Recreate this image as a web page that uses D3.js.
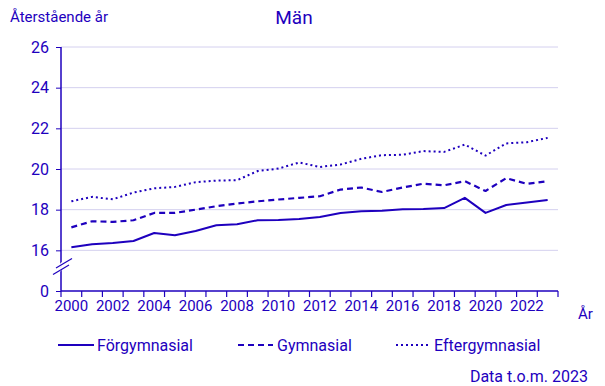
<!DOCTYPE html>
<html><head><meta charset="utf-8">
<script src="https://cdn.jsdelivr.net/npm/d3@7"></script>
<style>body{margin:0;background:#fff}svg{display:block;font-family:Roboto,sans-serif}</style>
</head><body><svg id="c" width="605" height="386"></svg>
<script>
const years = d3.range(2000, 2024);
const forgymnasial = [16.15,16.3,16.36,16.46,16.85,16.74,16.95,17.23,17.28,17.48,17.49,17.54,17.64,17.84,17.92,17.95,18.02,18.03,18.08,18.58,17.84,18.23,18.35,18.48];
const gymnasial = [17.13,17.43,17.4,17.48,17.84,17.84,18.0,18.17,18.3,18.41,18.5,18.58,18.66,18.99,19.09,18.87,19.09,19.28,19.2,19.4,18.92,19.55,19.27,19.4];
const eftergymnasial = [18.41,18.63,18.51,18.84,19.05,19.12,19.35,19.43,19.45,19.9,20.02,20.32,20.1,20.22,20.5,20.68,20.7,20.88,20.84,21.2,20.66,21.26,21.32,21.53];
const yTicks = [14,16,18,20,22,24,26];
const yTickLabels = ["0","16","18","20","22","24","26"];
const seriesNames = ["Förgymnasial","Gymnasial","Eftergymnasial"];

const C = "#1e00be", GRID = "#d4d0ef";
const svg = d3.select("#c");
const x = d3.scaleBand().domain(years).range([61, 558]).padding(0);
const y = d3.scaleLinear().domain([14, 26]).range([291, 47]);

// grid
svg.append("g").selectAll("line").data(yTicks.slice(1)).join("line")
  .attr("x1", 61).attr("x2", 558).attr("y1", d => y(d)).attr("y2", d => y(d))
  .attr("stroke", GRID).attr("stroke-width", 1);

// y axis
const ya = svg.append("g").attr("transform", "translate(61,0)")
  .call(d3.axisLeft(y).tickValues(yTicks).tickSize(5).tickPadding(7).tickFormat((d,i) => yTickLabels[i]));
ya.select(".domain").attr("stroke", C).attr("stroke-width", 1.5).attr("d", "M0,47V291");
ya.selectAll(".tick line").attr("stroke", C);
ya.selectAll("text").attr("fill", C).style("font-size", "16px").style("font-family", "Roboto,sans-serif");

// x axis
const xa = svg.append("g").attr("transform", "translate(0,291)")
  .call(d3.axisBottom(x).tickSize(0).tickPadding(9).tickFormat(d => d % 2 === 0 ? d : ""));
xa.select(".domain").attr("stroke", C).attr("stroke-width", 1.5).attr("d", "M61,0H558");
xa.selectAll("text").attr("fill", C).style("font-size", "15px").style("font-family", "Roboto,sans-serif");
svg.append("g").selectAll("line").data(years.concat([2024])).join("line")
  .attr("x1", (d,i) => 61 + i * x.bandwidth()).attr("x2", (d,i) => 61 + i * x.bandwidth())
  .attr("y1", 291).attr("y2", 297).attr("stroke", C).attr("stroke-width", 1.2);

// axis break
svg.append("path").attr("d", "M51,278L64,266M51,274L64,262").attr("stroke", "#fff").attr("stroke-width", 3);
svg.append("line").attr("x1", 53).attr("y1", 274.5).attr("x2", 69).attr("y2", 265).attr("stroke", C).attr("stroke-width", 1.2);
svg.append("line").attr("x1", 56).attr("y1", 268).attr("x2", 72).attr("y2", 258.5).attr("stroke", C).attr("stroke-width", 1.2);

// lines
const cx = d => x(d) + x.bandwidth() / 2;
const styles = [
  {data: forgymnasial, w: 2, dash: null},
  {data: gymnasial, w: 2.2, dash: "6,4"},
  {data: eftergymnasial, w: 2, dash: "2,3"}
];
const line = d3.line().x((d,i) => cx(years[i])).y(d => y(d));
styles.forEach(s => {
  svg.append("path").datum(s.data).attr("d", line).attr("fill", "none")
    .attr("stroke", C).attr("stroke-width", s.w).attr("stroke-dasharray", s.dash)
    .attr("stroke-linejoin", "round");
});

// texts
svg.append("text").attr("x", 10).attr("y", 22).attr("fill", C).style("font-size", "15px").text("Återstående år");
svg.append("text").attr("x", 294).attr("y", 24).attr("text-anchor", "middle").attr("fill", C).style("font-size", "19px").text("Män");
svg.append("text").attr("x", 578).attr("y", 319).attr("fill", C).style("font-size", "15px").text("År");
svg.append("text").attr("x", 588).attr("y", 382).attr("text-anchor", "end").attr("fill", C).style("font-size", "16px").text("Data t.o.m. 2023");

// legend
const leg = [{x1: 58, x2: 94, tx: 97}, {x1: 238, x2: 273, tx: 277}, {x1: 396, x2: 430, tx: 434}];
leg.forEach((l, i) => {
  svg.append("line").attr("x1", l.x1).attr("x2", l.x2).attr("y1", 345).attr("y2", 345)
    .attr("stroke", C).attr("stroke-width", styles[i].w).attr("stroke-dasharray", styles[i].dash);
  svg.append("text").attr("x", l.tx).attr("y", 351).attr("fill", C).style("font-size", "16px").text(seriesNames[i]);
});
</script></body></html>
